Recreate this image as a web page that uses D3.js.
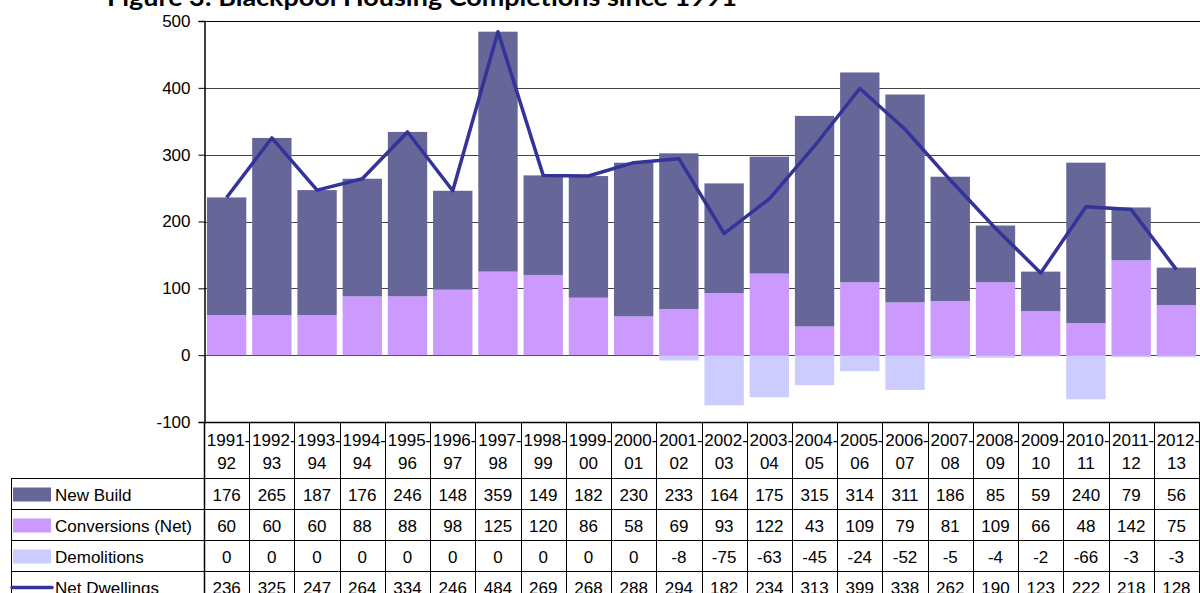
<!DOCTYPE html>
<html>
<head>
<meta charset="utf-8">
<script src="https://cdn.jsdelivr.net/npm/d3@7"></script>
<style>
  body { margin: 0; background: #fff; }
  svg { font-family: "Liberation Sans", Arial, sans-serif; }
</style>
</head>
<body>
<div id="chart"></div>
<script>
const width = 1200;
const height = 593;

const years = ['1991-|92', '1992-|93', '1993-|94', '1994-|94', '1995-|96', '1996-|97', '1997-|98',
  '1998-|99', '1999-|00', '2000-|01', '2001-|02', '2002-|03', '2003-|04', '2004-|05', '2005-|06',
  '2006-|07', '2007-|08', '2008-|09', '2009-|10', '2010-|11', '2011-|12', '2012-|13'];
const newBuild = [176, 265, 187, 176, 246, 148, 359, 149, 182, 230, 233, 164, 175, 315, 314, 311, 186, 85, 59, 240, 79, 56];
const conversions = [60, 60, 60, 88, 88, 98, 125, 120, 86, 58, 69, 93, 122, 43, 109, 79, 81, 109, 66, 48, 142, 75];
const demolitions = [0, 0, 0, 0, 0, 0, 0, 0, 0, 0, -8, -75, -63, -45, -24, -52, -5, -4, -2, -66, -3, -3];
const netDwellings = [236, 325, 247, 264, 334, 246, 484, 269, 268, 288, 294, 182, 234, 313, 399, 338, 262, 190, 123, 222, 218, 128];
const yTicks = [-100, 0, 100, 200, 300, 400, 500];

const colors = { newBuild: '#666699', conv: '#cc99ff', demo: '#ccccff', net: '#333399' };

const plot = { left: 204, right: 1199, top: 21, bottom: 422 };
const rowTops = [478, 509, 540, 571];
const rowH = 31;
const tableLeft = 11;

const svg = d3.select('#chart').append('svg')
  .attr('width', width)
  .attr('height', height);

const x = d3.scaleBand()
  .domain(years)
  .range([plot.left, plot.right])
  .paddingInner(0.13)
  .paddingOuter(0.065);

const y = d3.scaleLinear()
  .domain([-100, 500])
  .range([plot.bottom, plot.top]);

// title (cut off at the top in the original)
svg.append('text')
  .attr('x', 107)
  .attr('y', 6)
  .attr('textLength', 630)
  .attr('lengthAdjust', 'spacingAndGlyphs')
  .style('font-family', 'Lato, "Open Sans", sans-serif')
  .style('font-weight', 'bold')
  .style('font-size', '24px')
  .text('Figure 3: Blackpool Housing Completions since 1991');

// gridlines
svg.append('g')
  .selectAll('line')
  .data(yTicks.filter(d => d > -100))
  .join('line')
  .attr('x1', plot.left)
  .attr('x2', width)
  .attr('y1', d => Math.round(y(d)) + 0.5)
  .attr('y2', d => Math.round(y(d)) + 0.5)
  .attr('stroke', d => d === 500 ? '#000' : '#444')
  .attr('stroke-width', 1);

// bars
const idx = d3.range(years.length);
const bars = svg.append('g');

bars.selectAll('rect.conv')
  .data(idx)
  .join('rect')
  .attr('class', 'conv')
  .attr('x', i => x(years[i]))
  .attr('width', x.bandwidth())
  .attr('y', i => y(conversions[i]))
  .attr('height', i => y(0) - y(conversions[i]))
  .attr('fill', colors.conv);

bars.selectAll('rect.nb')
  .data(idx)
  .join('rect')
  .attr('class', 'nb')
  .attr('x', i => x(years[i]))
  .attr('width', x.bandwidth())
  .attr('y', i => y(conversions[i] + newBuild[i]))
  .attr('height', i => y(conversions[i]) - y(conversions[i] + newBuild[i]))
  .attr('fill', colors.newBuild);

bars.selectAll('rect.demo')
  .data(idx.filter(i => demolitions[i] < 0))
  .join('rect')
  .attr('class', 'demo')
  .attr('x', i => x(years[i]))
  .attr('width', x.bandwidth())
  .attr('y', y(0))
  .attr('height', i => y(demolitions[i]) - y(0))
  .attr('fill', colors.demo);

// net dwellings line
const line = d3.line()
  .x(i => x(years[i]) + x.bandwidth() / 2)
  .y(i => y(netDwellings[i]));

svg.append('path')
  .datum(idx)
  .attr('d', line)
  .attr('fill', 'none')
  .attr('stroke', colors.net)
  .attr('stroke-width', 3.5)
  .attr('stroke-linejoin', 'round');

// y axis
const yAxis = d3.axisLeft(y)
  .tickValues(yTicks)
  .tickFormat(d => String(d))
  .tickSize(6)
  .tickPadding(8);

const gy = svg.append('g')
  .attr('transform', `translate(${plot.left + 0.5},0)`)
  .call(yAxis);
gy.select('.domain').attr('stroke', '#000').attr('stroke-width', 1.5);
gy.selectAll('.tick line').attr('stroke', '#000');
gy.selectAll('.tick text')
  .style('font-size', '17px')
  .style('font-family', '"Liberation Sans", Arial, sans-serif')
  .attr('fill', '#000');

// data table
const table = svg.append('g');

// horizontal lines
table.append('line')
  .attr('x1', plot.left).attr('x2', width)
  .attr('y1', plot.bottom + 0.5).attr('y2', plot.bottom + 0.5)
  .attr('stroke', '#000').attr('stroke-width', 1.5);
table.selectAll('line.row')
  .data(rowTops)
  .join('line')
  .attr('class', 'row')
  .attr('x1', tableLeft).attr('x2', width)
  .attr('y1', d => d + 0.5).attr('y2', d => d + 0.5)
  .attr('stroke', '#000');

// vertical lines at band boundaries
const bounds = d3.range(years.length + 1).map(i => plot.left + i * (plot.right - plot.left) / years.length);
table.selectAll('line.col')
  .data(bounds)
  .join('line')
  .attr('class', 'col')
  .attr('x1', d => Math.round(d) + 0.5).attr('x2', d => Math.round(d) + 0.5)
  .attr('y1', plot.bottom).attr('y2', height)
  .attr('stroke', '#000')
  .attr('stroke-width', (d, i) => i === 0 ? 1.5 : 1);
table.append('line')
  .attr('x1', tableLeft + 0.5).attr('x2', tableLeft + 0.5)
  .attr('y1', rowTops[0]).attr('y2', height)
  .attr('stroke', '#000');

// category labels
const cats = table.selectAll('text.cat')
  .data(years)
  .join('text')
  .attr('class', 'cat')
  .attr('text-anchor', 'middle')
  .style('font-size', '17px')
  .attr('x', d => x(d) + x.bandwidth() / 2);
cats.append('tspan')
  .attr('x', d => x(d) + x.bandwidth() / 2 + 2)
  .attr('y', 446)
  .text(d => d.split('|')[0]);
cats.append('tspan')
  .attr('x', d => x(d) + x.bandwidth() / 2)
  .attr('y', 469)
  .text(d => d.split('|')[1]);

const rows = [
  { name: 'New Build', values: newBuild, color: colors.newBuild, key: 'rect' },
  { name: 'Conversions (Net)', values: conversions, color: colors.conv, key: 'rect' },
  { name: 'Demolitions', values: demolitions, color: colors.demo, key: 'rect' },
  { name: 'Net Dwellings', values: netDwellings, color: colors.net, key: 'line' }
];

rows.forEach((r, ri) => {
  const top = rowTops[ri];
  const mid = top + rowH / 2;
  if (r.key === 'rect') {
    table.append('rect')
      .attr('x', 13).attr('y', mid - 6)
      .attr('width', 38).attr('height', 14)
      .attr('fill', r.color);
  } else {
    table.append('line')
      .attr('x1', 12).attr('x2', 52)
      .attr('y1', mid + 1).attr('y2', mid + 1)
      .attr('stroke', r.color).attr('stroke-width', 3.5)
      .attr('stroke-linecap', 'round');
  }
  table.append('text')
    .attr('x', 55)
    .attr('y', mid + 7)
    .style('font-size', '17px')
    .text(r.name);
  table.selectAll(null)
    .data(r.values)
    .join('text')
    .attr('text-anchor', 'middle')
    .attr('x', (d, i) => x(years[i]) + x.bandwidth() / 2)
    .attr('y', mid + 7)
    .style('font-size', '17px')
    .text(d => d);
});
</script>
</body>
</html>
